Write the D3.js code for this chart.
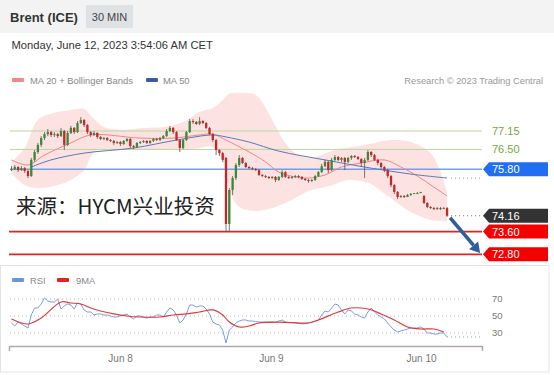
<!DOCTYPE html>
<html>
<head>
<meta charset="utf-8">
<title>Brent (ICE) 30 MIN</title>
<script src="https://cdn.jsdelivr.net/npm/d3@7"></script>
<style>
body { margin: 0; background: #fff; }
svg text { font-family: "Liberation Sans", Arial, sans-serif; }
</style>
</head>
<body>
<script>
// 30 min bars, index 0..132
var opens = [75.77,75.81,75.88,75.77,75.84,75.74,75.56,76.13,76.41,76.66,76.90,77.04,77.11,77.01,77.04,76.97,77.15,76.66,77.08,77.26,
  77.11,77.43,77.54,77.36,77.11,77.01,77.08,76.94,76.87,76.90,76.83,76.80,76.73,76.76,76.69,76.80,76.87,76.62,76.59,76.73,
  76.76,76.80,76.73,76.80,76.87,76.83,76.90,76.97,77.15,77.26,77.11,76.83,76.55,76.83,77.11,77.50,77.47,77.40,77.50,77.43,
  77.26,77.04,76.83,76.48,76.37,76.20,73.87,75.07,75.49,75.95,76.20,76.02,75.88,75.84,75.81,75.77,75.60,75.56,75.53,75.49,
  75.53,75.42,75.53,75.70,75.53,75.49,75.53,75.56,75.53,75.46,75.42,75.39,75.42,75.56,75.70,75.91,76.06,75.77,76.13,76.23,
  76.13,76.20,76.06,76.20,76.27,76.23,76.16,76.02,76.13,76.41,76.30,76.13,76.02,75.88,75.77,75.56,75.24,75.00,74.82,74.86,
  74.82,74.89,74.93,74.96,74.96,74.86,74.61,74.47,74.43,74.40,74.43,74.40,74.43];
var highs = [75.91,75.95,75.91,75.91,75.88,75.77,76.20,76.48,76.73,76.97,77.11,77.22,77.15,77.11,77.08,77.26,77.19,77.15,77.33,77.29,
  77.50,77.64,77.57,77.40,77.15,77.15,77.11,76.97,76.94,76.94,76.87,76.83,76.80,76.80,76.83,76.90,76.90,76.66,76.76,76.80,
  76.83,76.83,76.83,76.90,76.90,76.94,77.01,77.22,77.33,77.29,77.15,76.87,76.87,77.15,77.57,77.57,77.50,77.64,77.54,77.47,
  77.29,77.08,76.87,76.51,76.41,76.23,75.14,75.56,76.02,76.30,76.23,76.06,75.91,75.88,75.84,75.81,75.63,75.60,75.56,75.56,
  75.56,75.56,75.77,75.74,75.56,75.56,75.60,75.60,75.56,75.49,75.46,75.46,75.60,75.74,75.99,76.13,76.09,76.20,76.30,76.27,
  76.23,76.23,76.23,76.30,76.30,76.27,76.20,76.20,76.48,76.44,76.34,76.16,76.06,75.91,75.81,75.60,75.28,75.03,74.89,74.89,
  74.93,74.96,74.96,75.00,75.00,74.89,74.64,74.50,74.47,74.47,74.47,74.47,74.47];
var lows = [75.74,75.77,75.70,75.74,75.67,75.49,75.53,76.06,76.34,76.59,76.83,76.97,76.94,76.94,76.90,76.94,76.48,76.62,77.04,77.04,
  77.08,77.40,77.29,77.04,76.94,76.97,76.87,76.83,76.83,76.80,76.76,76.66,76.69,76.62,76.66,76.76,76.55,76.51,76.55,76.69,
  76.73,76.69,76.69,76.76,76.80,76.80,76.87,76.94,77.11,77.04,76.80,76.41,76.51,76.80,77.08,77.40,77.36,77.36,77.40,77.22,
  77.01,76.76,76.30,76.27,76.06,73.59,73.59,74.89,75.42,75.88,75.99,75.84,75.81,75.77,75.74,75.56,75.53,75.49,75.46,75.46,
  75.35,75.39,75.49,75.49,75.46,75.46,75.49,75.49,75.42,75.39,75.32,75.35,75.39,75.53,75.67,75.88,75.67,75.74,76.09,76.09,
  76.06,75.77,76.02,76.13,76.20,76.13,75.88,75.49,76.09,76.23,76.09,75.95,75.81,75.70,75.49,75.17,74.93,74.75,74.79,74.79,
  74.82,74.86,74.93,74.96,74.96,74.57,74.43,74.40,74.36,74.36,74.36,74.40,74.12];
var closes = [75.81,75.88,75.77,75.84,75.74,75.56,76.13,76.41,76.66,76.90,77.04,77.11,77.01,77.04,76.97,77.15,76.66,77.08,77.26,77.11,
  77.43,77.54,77.36,77.11,77.01,77.08,76.94,76.87,76.90,76.83,76.80,76.73,76.76,76.69,76.80,76.87,76.62,76.59,76.73,76.76,
  76.80,76.73,76.80,76.87,76.83,76.90,76.97,77.15,77.26,77.11,76.83,76.55,76.83,77.11,77.50,77.47,77.40,77.50,77.43,77.26,
  77.04,76.83,76.48,76.37,76.13,73.87,75.07,75.49,75.95,76.20,76.02,75.88,75.84,75.81,75.77,75.60,75.56,75.53,75.49,75.53,
  75.42,75.53,75.70,75.53,75.49,75.53,75.56,75.53,75.46,75.42,75.39,75.42,75.56,75.70,75.91,76.06,75.77,76.13,76.23,76.13,
  76.20,76.06,76.20,76.27,76.23,76.16,76.02,76.13,76.41,76.30,76.13,76.02,75.88,75.77,75.56,75.24,75.00,74.82,74.86,74.82,
  74.89,74.93,74.96,74.96,75.00,74.61,74.47,74.43,74.40,74.43,74.40,74.43,74.16];

// bollinger bands (MA 20)
var upperIdx = [0,4,8,13,18,22,24,26,28,33,40,46,52,57,61,64,66,68,74,77,80,83,86,90,93,98,104,110,115,121,127,130,132];
var bbUpper = [76.06,76.55,77.54,77.79,77.89,77.93,77.71,77.47,77.29,77.19,77.26,77.29,77.47,77.82,77.96,78.24,78.46,78.49,78.42,77.96,
  77.33,76.73,76.37,76.20,76.27,76.48,76.59,76.73,76.83,76.76,76.37,75.70,74.96];
var lowerIdx = [0,4,8,13,18,22,24,26,33,40,46,52,57,61,64,66,69,74,78,85,90,97,102,108,114,121,127,132];
var bbLower = [75.67,75.24,75.14,75.21,75.42,75.77,76.23,76.48,76.48,76.48,76.48,76.48,76.55,76.59,76.06,75.07,74.47,74.33,74.40,74.72,
  75.03,75.24,75.42,75.32,74.86,74.29,74.01,73.97];
var ma20Idx = [0,5,10,18,24,39,49,57,61,65,72,77,81,86,90,95,100,106,113,118,123,128,132];
var ma20 = [76.13,75.95,76.30,76.73,77.01,76.90,76.90,77.01,77.04,76.83,76.41,76.06,75.70,75.53,75.49,75.60,75.88,76.02,76.13,75.88,
  75.56,75.17,74.86];
var ma50Idx = [6,12,22,37,50,61,65,72,81,95,109,121,132];
var ma50 = [75.88,76.13,76.37,76.55,76.83,77.01,76.94,76.76,76.44,76.13,75.84,75.63,75.49];

// key levels
var resistance = [77.15, 76.50];
var pivot = 75.80;
var lastPrice = 74.16;
var supports = [73.60, 72.80];
var targetIdx = 142, targetPrice = 72.85;

// RSI panel
var rsi = [41.8,38.2,42.9,40.6,38.2,35.9,51.2,59.4,59.4,64.1,71.2,67.6,66.5,66.5,70.0,58.2,61.8,64.1,62.9,58.2,
  65.3,64.1,57.1,54.7,54.7,51.2,52.4,52.4,51.2,51.2,50.0,48.8,48.8,50.0,51.2,52.4,48.8,46.5,50.0,50.0,
  48.8,47.6,48.8,48.8,51.2,51.2,48.8,54.7,59.4,57.1,51.2,41.8,45.3,52.4,62.9,62.9,60.6,61.8,61.8,58.2,
  52.4,42.9,40.6,39.4,33.5,18.2,33.5,37.1,41.8,44.1,45.3,45.3,44.1,44.1,43.5,42.9,42.9,42.9,42.9,42.9,
  42.4,44.1,45.3,42.9,42.4,42.4,42.4,41.8,40.6,41.2,41.8,42.9,44.1,45.3,51.2,55.9,54.7,59.4,64.1,62.9,
  57.1,52.4,57.1,55.9,52.4,51.2,48.8,47.6,54.7,59.4,54.7,51.2,48.8,46.5,41.8,37.1,33.5,31.2,32.4,33.5,
  34.7,35.9,35.9,35.9,37.1,34.7,30.0,30.0,28.8,28.8,30.0,30.0,25.3];
var rsiMaIdx = [0,5,9,15,18,21,24,27,31,35,39,45,49,53,57,61,64,66,69,72,75,81,90,93,99,103,108,112,116,120,124,128,131];
var rsiMa = [46.5,40.6,47.6,66.5,65.3,64.1,59.4,55.9,52.4,50.0,48.8,48.8,51.2,52.4,54.7,57.1,51.2,42.9,37.1,38.2,
  41.8,42.9,41.8,45.3,54.7,59.4,58.2,52.4,45.3,37.1,34.7,34.7,31.2];
var rsiLevels = [70, 50, 30];

var dayLabels = ["Jun 8", "Jun 9", "Jun 10"];
var dayIdx = [32.9, 78.6, 124.1];

var W = 554, H = 375;
var left = 10, right = 482;

var svg = d3.select("body").append("svg").attr("width", W).attr("height", H);

var x = d3.scaleLinear().domain([0, 132]).range([11.5, 447.1]);
var y = d3.scaleLinear().domain([72.80, 77.15]).range([254.3, 131]);
var yr = d3.scaleLinear().domain([30, 70]).range([333, 299]);

// header
svg.append("rect").attr("width", W).attr("height", 33).attr("fill", "#f3f3f3");
svg.append("text").attr("x", 10).attr("y", 22).attr("font-size", 13).attr("font-weight", "bold")
  .attr("fill", "#333").text("Brent (ICE)");
svg.append("rect").attr("x", 86).attr("y", 5).attr("width", 47).attr("height", 23).attr("fill", "#dfe2e5");
svg.append("text").attr("x", 109.5).attr("y", 20.5).attr("text-anchor", "middle").attr("font-size", 11)
  .attr("fill", "#444").text("30 MIN");
svg.append("text").attr("x", 11.5).attr("y", 48.5).attr("font-size", 11.2).attr("fill", "#333")
  .text("Monday, June 12, 2023 3:54:06 AM CET");

// legend
svg.append("rect").attr("x", 12).attr("y", 78).attr("width", 12).attr("height", 4).attr("rx", 1).attr("fill", "#f08a8a");
svg.append("text").attr("x", 30).attr("y", 83.5).attr("font-size", 9.4).attr("fill", "#888").text("MA 20 + Bollinger Bands");
svg.append("rect").attr("x", 146).attr("y", 78).attr("width", 12).attr("height", 4).attr("rx", 1).attr("fill", "#3a5ea6");
svg.append("text").attr("x", 163).attr("y", 83.5).attr("font-size", 9.4).attr("fill", "#888").text("MA 50");
svg.append("text").attr("x", 543).attr("y", 83.5).attr("text-anchor", "end").attr("font-size", 9.3).attr("fill", "#999")
  .text("Research \u00a9 2023 Trading Central");

// bollinger band area
var curve = d3.curveCatmullRom.alpha(0.5);
var up = upperIdx.map((d, i) => [x(d), y(bbUpper[i])]);
var lo = lowerIdx.map((d, i) => [x(d), y(bbLower[i])]).reverse();
var ln = d3.line().curve(curve);
svg.append("path")
  .attr("d", ln(up) + "L" + ln(lo).slice(1) + "Z")
  .attr("fill", "#fde2e2");

// level lines
resistance.forEach(function(p) {
  svg.append("line").attr("x1", left).attr("x2", right).attr("y1", y(p)).attr("y2", y(p))
    .attr("stroke", "#b9d69f").attr("stroke-width", 1);
});
svg.append("line").attr("x1", left).attr("x2", right).attr("y1", y(pivot)).attr("y2", y(pivot))
  .attr("stroke", "#7b9de3").attr("stroke-width", 1.6);
supports.forEach(function(p) {
  svg.append("line").attr("x1", left - 1).attr("x2", right).attr("y1", y(p)).attr("y2", y(p))
    .attr("stroke", "#e32222").attr("stroke-width", 1.8);
});

// moving averages
svg.append("path").datum(ma20Idx.map((d, i) => [x(d), y(ma20[i])]))
  .attr("d", ln).attr("fill", "none").attr("stroke", "#f08585").attr("stroke-width", 1);
svg.append("path").datum(ma50Idx.map((d, i) => [x(d), y(ma50[i])]))
  .attr("d", ln).attr("fill", "none").attr("stroke", "#5a79b8").attr("stroke-width", 1);

// dotted extensions
svg.append("line").attr("x1", x(132) + 4).attr("x2", right).attr("y1", y(ma50[ma50.length - 1])).attr("y2", y(ma50[ma50.length - 1]))
  .attr("stroke", "#999").attr("stroke-dasharray", "1,3");
svg.append("line").attr("x1", x(132) + 4).attr("x2", right).attr("y1", y(lastPrice)).attr("y2", y(lastPrice))
  .attr("stroke", "#777").attr("stroke-dasharray", "1,3");

// candles
var bars = d3.range(closes.length).map(i => ({i: i, o: opens[i], h: highs[i], l: lows[i], c: closes[i]}));
var bw = 2.3;
var cg = svg.append("g");
cg.selectAll("line").data(bars).join("line")
  .attr("x1", d => x(d.i)).attr("x2", d => x(d.i))
  .attr("y1", d => y(d.h)).attr("y2", d => y(d.l))
  .attr("stroke", "#555").attr("stroke-width", 0.8);
cg.selectAll("rect").data(bars).join("rect")
  .attr("x", d => x(d.i) - bw / 2).attr("width", bw)
  .attr("y", d => y(Math.max(d.o, d.c)))
  .attr("height", d => Math.max(1, Math.abs(y(d.o) - y(d.c))))
  .attr("fill", d => d.c >= d.o ? "#378a37" : "#c62626");

// arrow
var p0 = [x(132) + 3, y(lastPrice) + 2], p1 = [x(targetIdx), y(targetPrice)];
var ang = Math.atan2(p1[1] - p0[1], p1[0] - p0[0]);
var hl = 10, hw = 6;
var base = [p1[0] - hl * Math.cos(ang), p1[1] - hl * Math.sin(ang)];
svg.append("line").attr("x1", p0[0]).attr("y1", p0[1]).attr("x2", base[0]).attr("y2", base[1])
  .attr("stroke", "#2d5d9d").attr("stroke-width", 3.5);
svg.append("polygon").attr("fill", "#2d5d9d").attr("points", [
  p1, [base[0] + hw * Math.sin(ang), base[1] - hw * Math.cos(ang)], [base[0] - hw * Math.sin(ang), base[1] + hw * Math.cos(ang)]
].map(p => p.join(",")).join(" "));

// right tags
function tag(p, fill, txt) {
  var cy = y(p);
  svg.append("polygon").attr("fill", fill)
    .attr("points", [[right + 1, cy], [right + 7, cy - 7], [548, cy - 7], [548, cy + 7], [right + 7, cy + 7]].map(q => q.join(",")).join(" "));
  svg.append("text").attr("x", 492).attr("y", cy).attr("dy", "0.36em").attr("font-size", 11).attr("fill", txt).text(p.toFixed(2));
}
resistance.forEach(function(p) {
  svg.append("text").attr("x", 492).attr("y", y(p)).attr("dy", "0.36em").attr("font-size", 11)
    .attr("fill", "#76a83c").text(p.toFixed(2));
});
tag(pivot, "#1f6ff0", "#fff");
tag(lastPrice, "#333", "#fff");
supports.forEach(p => tag(p, "#f50000", "#fff"));

// watermark
svg.append("text").attr("x", 16).attr("y", 214).attr("font-size", 20.5).attr("fill", "#222")
  .style("font-family", "'Noto Sans CJK SC', 'Noto Sans', sans-serif").text("来源：HYCM兴业投资");

// RSI panel
svg.append("rect").attr("x", 0.5).attr("y", 265.5).attr("width", 548.5).attr("height", 106.5)
  .attr("fill", "none").attr("stroke", "#e4e4e4");
svg.append("rect").attr("x", 12).attr("y", 278).attr("width", 12).attr("height", 4).attr("rx", 1).attr("fill", "#6f93dc");
svg.append("text").attr("x", 30).attr("y", 283.5).attr("font-size", 9.4).attr("fill", "#888").text("RSI");
svg.append("rect").attr("x", 57).attr("y", 278).attr("width", 12).attr("height", 4).attr("rx", 1).attr("fill", "#e52222");
svg.append("text").attr("x", 76).attr("y", 283.5).attr("font-size", 9.4).attr("fill", "#888").text("9MA");

rsiLevels.forEach(function(v) {
  svg.append("line").attr("x1", left).attr("x2", right).attr("y1", yr(v)).attr("y2", yr(v))
    .attr("stroke", "#bbb").attr("stroke-dasharray", "1,3");
  svg.append("text").attr("x", 492).attr("y", yr(v)).attr("dy", "0.36em").attr("font-size", 9.5)
    .attr("fill", "#777").text(v);
});
svg.append("path").datum(rsi.map((v, i) => [x(i), yr(v)]))
  .attr("d", d3.line()).attr("fill", "none").attr("stroke", "#7d9ce0").attr("stroke-width", 1);
svg.append("line").attr("x1", x(132)).attr("x2", right).attr("y1", yr(rsi[rsi.length - 1])).attr("y2", yr(rsi[rsi.length - 1]))
  .attr("stroke", "#7d9ce0").attr("stroke-dasharray", "1,3");
svg.append("path").datum(rsiMaIdx.map((d, i) => [x(d), yr(rsiMa[i])]))
  .attr("d", ln).attr("fill", "none").attr("stroke", "#e03a3a").attr("stroke-width", 1.2);

// time axis
var xa = d3.scaleLinear().domain([x.invert(left - 1), x.invert(right)]).range([left - 1, right]);
var ax = svg.append("g").attr("transform", "translate(0,346)")
  .call(d3.axisBottom(xa).tickValues(dayIdx).tickFormat((d, i) => dayLabels[i])
    .tickSizeInner(0).tickSizeOuter(5).tickPadding(9));
ax.select(".domain").attr("stroke", "#aaa").attr("stroke-width", 1.5);
ax.selectAll("text").attr("font-size", 10).attr("fill", "#777")
  .style("font-family", "'Liberation Sans', Arial, sans-serif");
</script>
</body>
</html>
